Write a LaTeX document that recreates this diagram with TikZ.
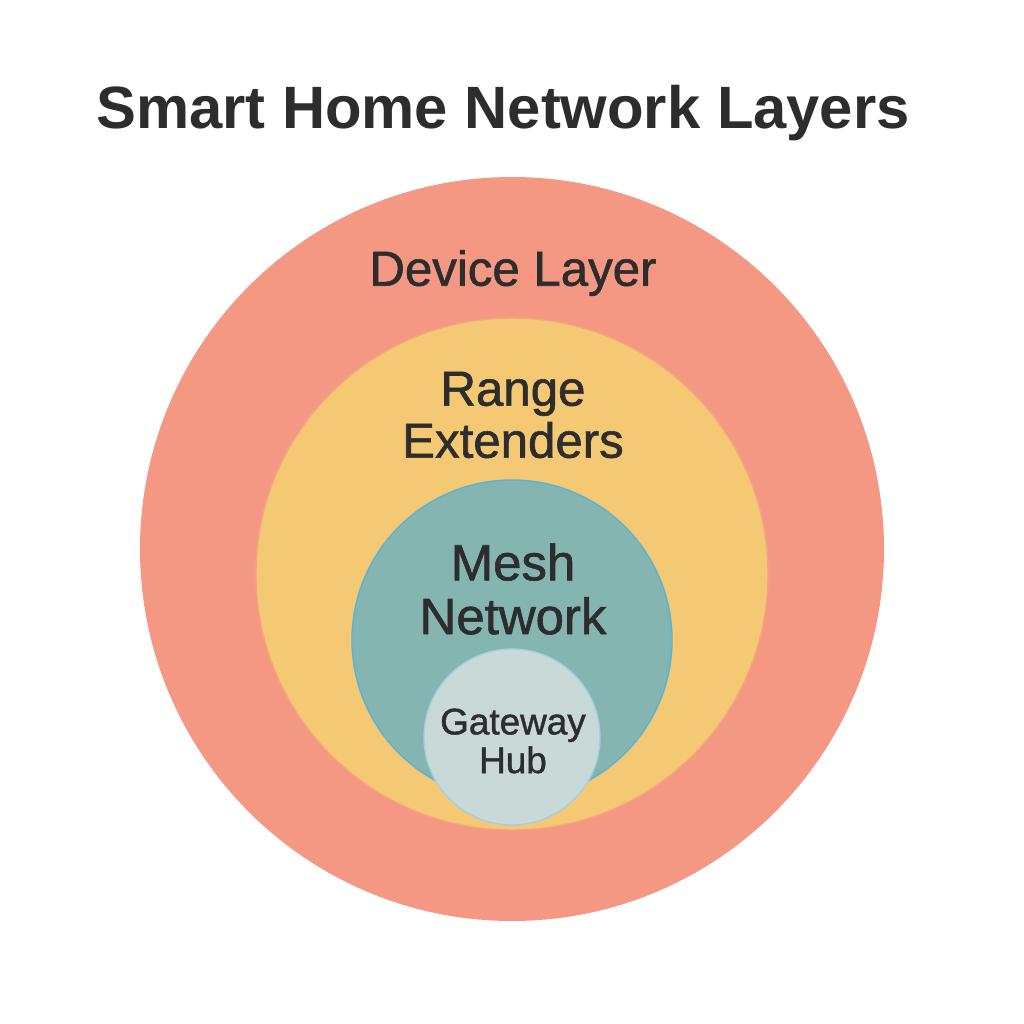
\documentclass[tikz,border=0pt]{standalone}
\usepackage{fontspec}
\setmainfont{Liberation Sans}
\newfontfamily\labelfont[FakeBold=1.2]{Liberation Sans}
\usepackage{tikz}
\usetikzlibrary{positioning}
\usepackage{xcolor}
\definecolor{salmon}{HTML}{F49883}
\definecolor{sand}{HTML}{F5C973}
\definecolor{teal}{HTML}{84B5B0}
\definecolor{mist}{HTML}{C9D9D7}
\definecolor{ink}{HTML}{2D2D2D}
\tikzset{
  layer/.style={circle, inner sep=0pt, line width=0.4pt},
  lbl/.style={ink, align=center, font=\labelfont\fontsize{14}{14.8}\selectfont}
}

\begin{document}
\begin{tikzpicture}
    \useasboundingbox (0,0) rectangle (10.24,10.24);
    \fill[white] (0,0) rectangle (10.24,10.24);
    \node[ink, font=\fontsize{17}{20}\selectfont\bfseries] (title) at (5.03,9.11) {Smart Home Network Layers};
    % layers, outside in
    \node[layer, fill=salmon, minimum size=7.44cm] (device) at (5.12,4.75) {};
    \node[layer, fill=sand, draw=salmon!70!sand, minimum size=5.12cm] (range) at (5.12,4.50) {};
    \node[layer, fill=teal, draw=cyan!50!teal, minimum size=3.20cm] (mesh) at (5.12,3.84) {};
    \node[layer, fill=mist, draw=cyan!25!mist, minimum size=1.76cm] (hub) at (5.12,2.87) {};
    % labels
    \node[lbl] (devicelbl) at (5.13,7.51) {Device Layer};
    \node[lbl] (rangelbl) at (5.13,6.09) {Range\\ Extenders};
    \node[lbl, font=\labelfont\fontsize{14.5}{15.3}\selectfont] (meshlbl) at (5.13,4.35) {Mesh\\ Network};
    \node[lbl, font=\labelfont\fontsize{10.5}{11}\selectfont] (hublbl) at (5.13,2.83) {Gateway\\ Hub};
  \end{tikzpicture}
\end{document}
